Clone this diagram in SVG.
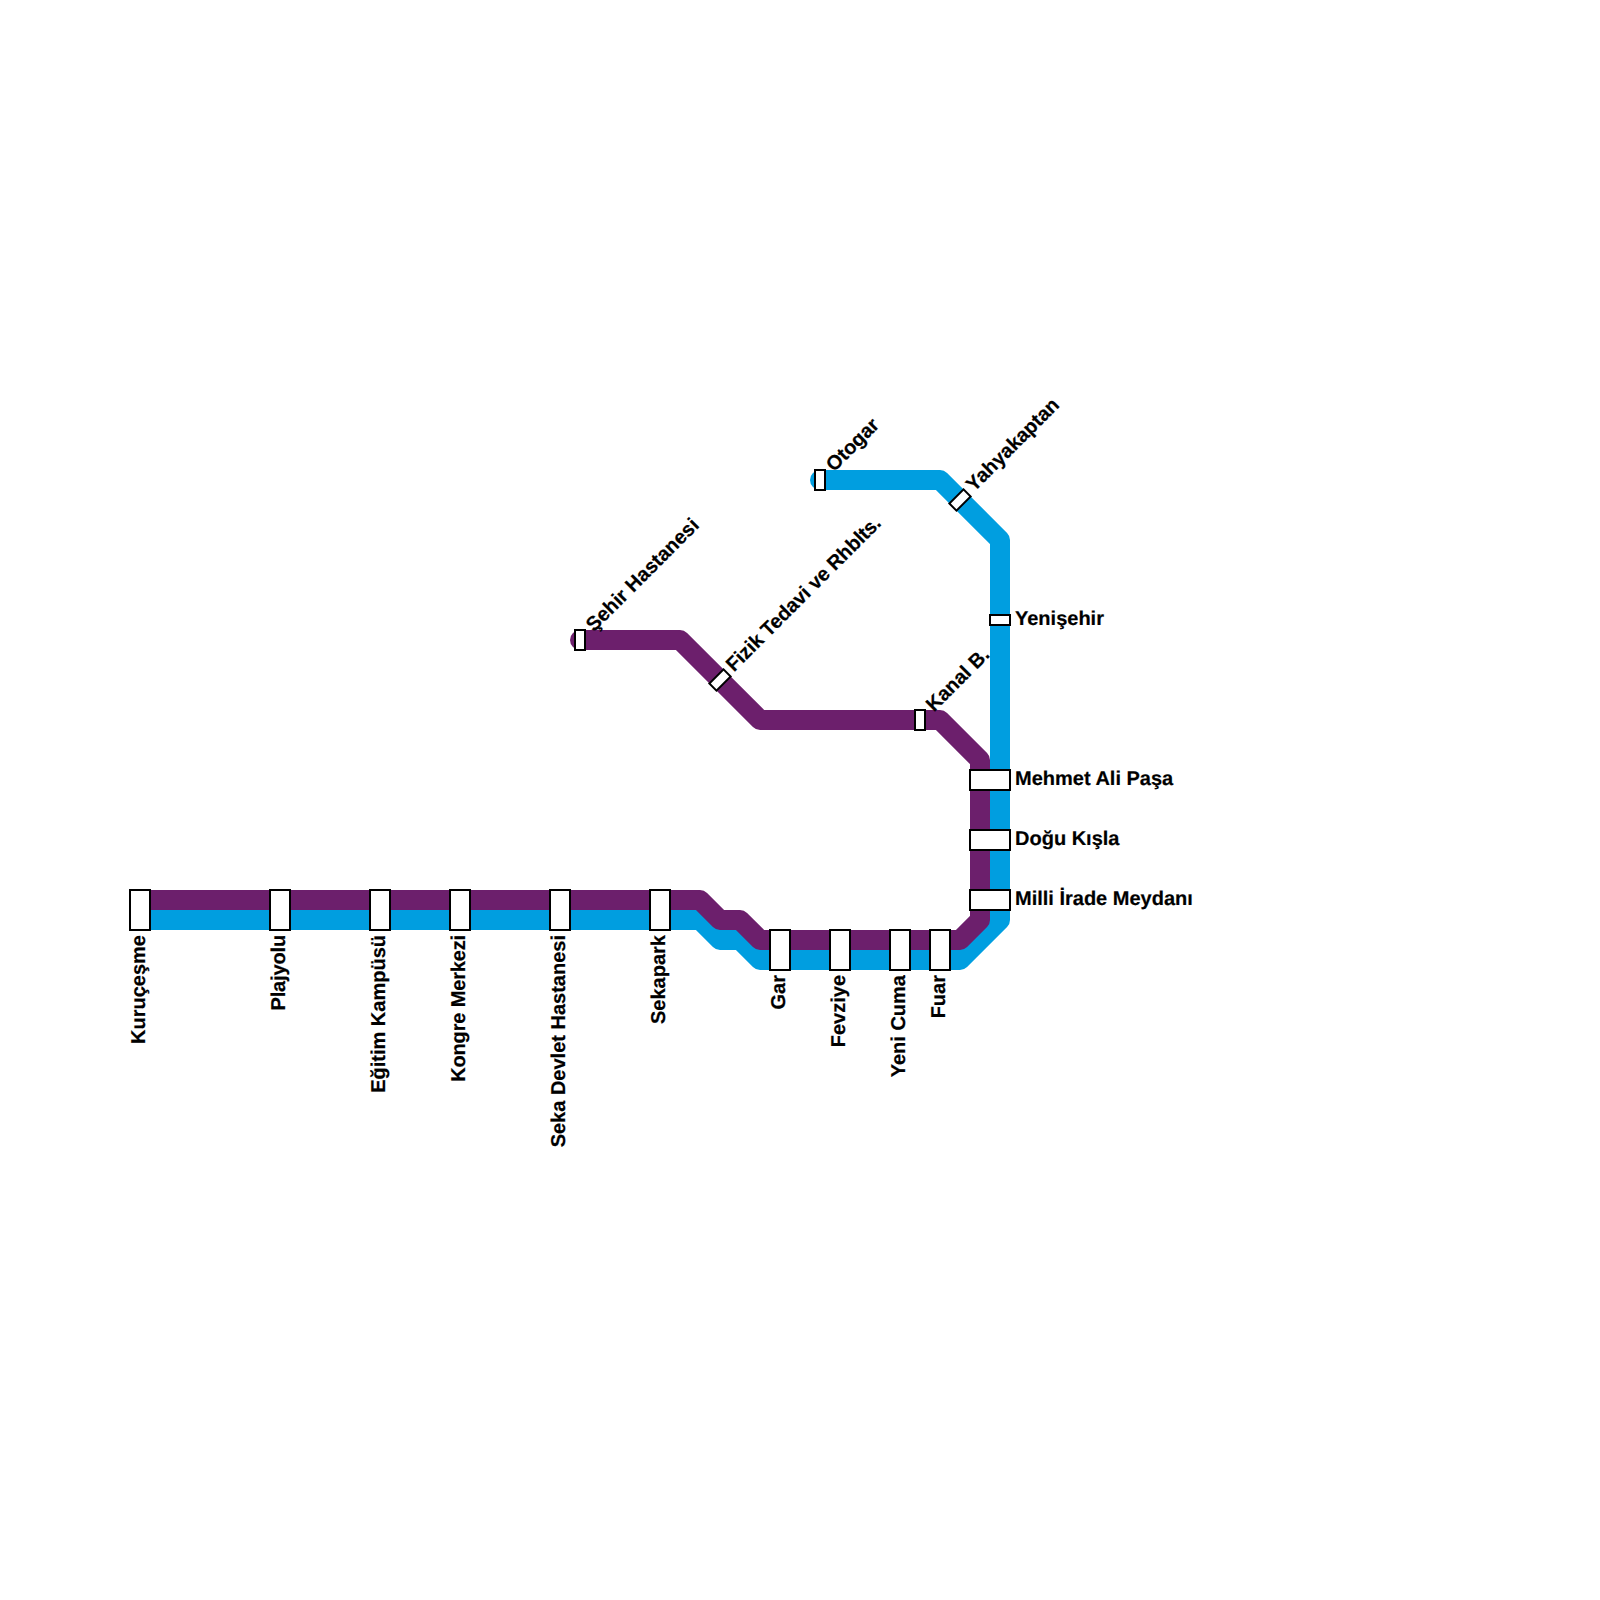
<svg xmlns="http://www.w3.org/2000/svg" width="1600" height="1600" viewBox="0 0 1600 1600">
<style>
.line{fill:none;stroke-width:20;stroke-linejoin:round;stroke-linecap:butt}
.st{fill:#fff;stroke:#000;stroke-width:2}
text{font-family:"Liberation Sans",Arial,sans-serif;font-size:20px;font-weight:bold;fill:#000;stroke:#000;stroke-width:0.2;text-rendering:geometricPrecision}
.tight{letter-spacing:-0.15px}
</style>
<rect width="1600" height="1600" fill="#fff"/>
<g id="connectors">
<circle cx="820" cy="480" r="10" fill="#009ee0"/>
<path class="line" stroke="#009ee0" d="M150 920H700L720 940H740L760 960H960L1000 920V540L940 480H820"/>
<circle cx="580" cy="640" r="10" fill="#6c1f6c"/>
<path class="line" stroke="#6c1f6c" d="M150 900H700L720 920H740L760 940H960L980 920V760L940 720H760L680 640H580"/>
</g>
<g id="kurucesme"><rect class="st" x="130" y="890" width="20" height="40"/><text transform="translate(145 935) rotate(-90)" text-anchor="end">Kuruçeşme</text></g>
<g id="plajyolu"><rect class="st" x="270" y="890" width="20" height="40"/><text class="tight" transform="translate(285 935) rotate(-90)" text-anchor="end">Plajyolu</text></g>
<g id="egitim"><rect class="st" x="370" y="890" width="20" height="40"/><text transform="translate(385 935) rotate(-90)" text-anchor="end">Eğitim Kampüsü</text></g>
<g id="kongre"><rect class="st" x="450" y="890" width="20" height="40"/><text class="tight" transform="translate(465 935) rotate(-90)" text-anchor="end">Kongre Merkezi</text></g>
<g id="seka"><rect class="st" x="550" y="890" width="20" height="40"/><text transform="translate(565 935) rotate(-90)" text-anchor="end">Seka Devlet Hastanesi</text></g>
<g id="sekapark"><rect class="st" x="650" y="890" width="20" height="40"/><text transform="translate(665 935) rotate(-90)" text-anchor="end">Sekapark</text></g>
<g id="gar"><rect class="st" x="770" y="930" width="20" height="40"/><text transform="translate(785 975) rotate(-90)" text-anchor="end">Gar</text></g>
<g id="fevziye"><rect class="st" x="830" y="930" width="20" height="40"/><text transform="translate(845 975) rotate(-90)" text-anchor="end">Fevziye</text></g>
<g id="yenicuma"><rect class="st" x="890" y="930" width="20" height="40"/><text transform="translate(905 975) rotate(-90)" text-anchor="end">Yeni Cuma</text></g>
<g id="fuar"><rect class="st" x="930" y="930" width="20" height="40"/><text transform="translate(945 975) rotate(-90)" text-anchor="end">Fuar</text></g>
<g id="milli"><rect class="st" x="970" y="890" width="40" height="20"/><text x="1015" y="905">Milli İrade Meydanı</text></g>
<g id="dogu"><rect class="st" x="970" y="830" width="40" height="20"/><text x="1015" y="845">Doğu Kışla</text></g>
<g id="mehmet"><rect class="st" x="970" y="770" width="40" height="20"/><text x="1015" y="785">Mehmet Ali Paşa</text></g>
<g id="yenisehir"><rect class="st" x="990" y="615" width="20" height="10"/><text x="1015" y="625">Yenişehir</text></g>
<g id="yahyakaptan"><rect class="st" x="950" y="495" width="20" height="10" transform="rotate(-45 960 500)"/><text transform="translate(974 492.500) rotate(-45)">Yahyakaptan</text></g>
<g id="otogar"><rect class="st" x="815" y="470" width="10" height="20"/><text transform="translate(834 472.500) rotate(-45)">Otogar</text></g>
<g id="kanal"><rect class="st" x="915" y="710" width="10" height="20"/><text transform="translate(934 712.500) rotate(-45)">Kanal B.</text></g>
<g id="fizik"><rect class="st" x="710" y="675" width="20" height="10" transform="rotate(-45 720 680)"/><text class="tight" transform="translate(734 672.500) rotate(-45)">Fizik Tedavi ve Rhblts.</text></g>
<g id="sehir"><rect class="st" x="575" y="630" width="10" height="20"/><text transform="translate(594 632.500) rotate(-45)">Şehir Hastanesi</text></g>
</svg>
